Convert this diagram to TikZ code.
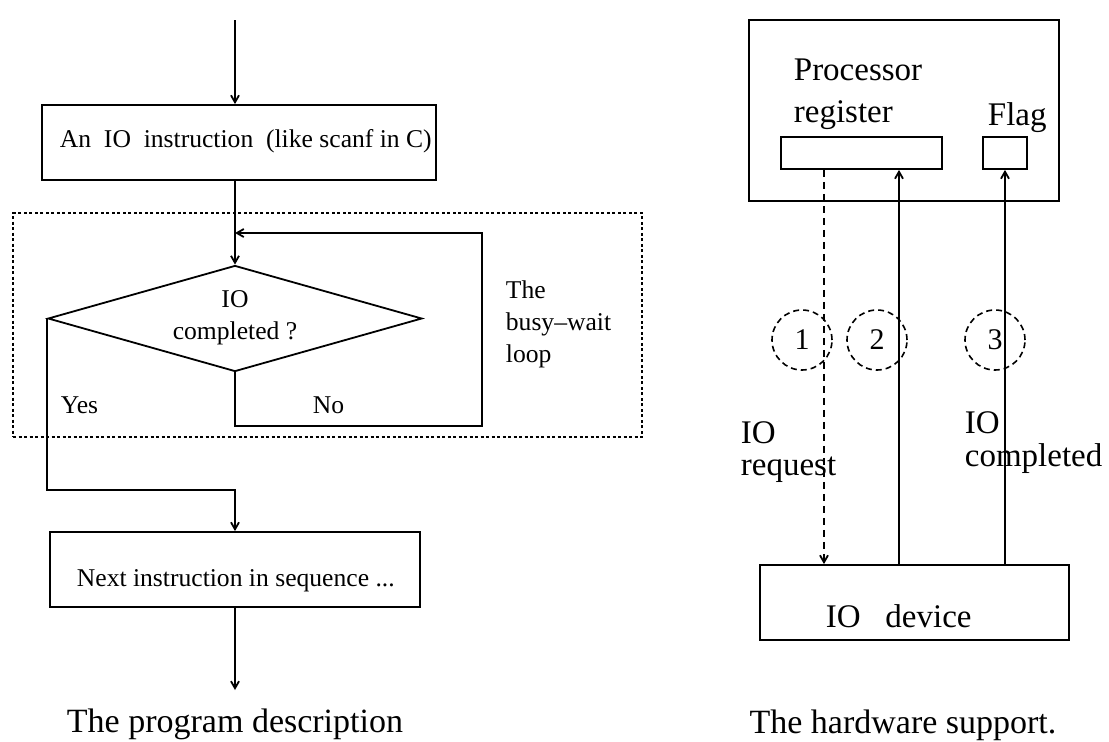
\documentclass[tikz,border=0pt]{standalone}
\usepackage{fontspec}
\setmainfont{Liberation Serif}
\usetikzlibrary{arrows.meta,shapes.geometric}
\begin{document}
\begin{tikzpicture}[x=1pt,y=-1pt,
  line width=1.8pt,
  arr/.style={-{Straight Barb[length=7pt,width=8pt]}},
  box/.style={draw,rectangle,inner sep=0pt},
  smalltxt/.style={font=\fontsize{25.6}{32}\selectfont,inner sep=0pt,anchor=base west},
  bigtxt/.style={font=\fontsize{33}{40}\selectfont,inner sep=0pt,anchor=base west},
  numcirc/.style={draw,circle,dash pattern=on 6pt off 4pt,line width=1.6pt,minimum size=60pt,inner sep=0pt,font=\fontsize{30}{36}\selectfont},
  loopframe/.style={draw,rectangle,dash pattern=on 3pt off 2.5pt,line width=1.1pt,inner sep=0pt}
]
\useasboundingbox (0,0) rectangle (1109,742);
% ---------- left: program description ----------
\coordinate (start) at (235,20);
\node[box,minimum width=394pt,minimum height=75pt] (box1) at (239,142.5) {};
\node[smalltxt] (t1) at (59,147) {An\ \ IO\ \ instruction\ \ (like scanf in C)};
\node[loopframe,minimum width=629pt,minimum height=224pt] (loopbox) at (327.5,325) {};
\node[draw,diamond,minimum width=374pt,minimum height=106pt,inner sep=0pt] (dec) at (235,318.5) {};
\node[font=\fontsize{25.6}{32}\selectfont,align=center,inner sep=0pt] (dect) at (235,318) {IO\\completed ?};
\coordinate (loopBR) at (482,426);
\coordinate (loopTR) at (482,233);
\coordinate (yesturn) at (44,490);
\node[box,minimum width=370pt,minimum height=75pt] (box2) at (235,569.5) {};
\node[smalltxt] (t2) at (76,586) {Next instruction in sequence ...};
\coordinate (end) at (235,690);
\node[smalltxt] (yes) at (60,413) {Yes};
\node[smalltxt] (no) at (312,413) {No};
\node[smalltxt,align=left,anchor=north west] (busy) at (505,280) {The\\busy--wait\\loop};
\node[font=\fontsize{34}{40}\selectfont,inner sep=0pt,anchor=base] (cap1) at (235,732) {The program description};

\draw[arr] (start) -- (start |- box1.north);
\draw[arr] (dec.north |- box1.south) -- (dec.north);
\draw[arr] (dec.south) |- (loopBR) -- (loopTR) -- (dec.north |- loopTR);
\draw[arr] (dec.west) -- (dec.west |- yesturn) -| (box2.north);
\draw[arr] (box2.south) -- (end);

% ---------- right: hardware support ----------
\node[box,minimum width=310pt,minimum height=181pt] (cpu) at (904,110.5) {};
\node[box,minimum width=161pt,minimum height=32pt] (reg) at (861.5,153) {};
\node[box,minimum width=44pt,minimum height=32pt] (flag) at (1005,153) {};
\node[bigtxt,align=left,anchor=north west,font=\fontsize{33}{42}\selectfont] (proc) at (793,58) {Processor\\register};
\node[bigtxt] (flagt) at (987,125) {Flag};
\node[box,minimum width=309pt,minimum height=75pt] (dev) at (914.5,602.5) {};
\node[bigtxt] (devt) at (825,627) {IO\ \ \ device};
\coordinate (xa) at (824,0);
\coordinate (xb) at (899,0);
\draw[arr,dash pattern=on 7pt off 5pt] (xa |- reg.south) -- (xa |- dev.north);
\draw[arr] (xb |- dev.north) -- (xb |- reg.south);
\draw[arr] (flag.south |- dev.north) -- (flag.south);
\node[numcirc] (c1) at (802,340) {1};
\node[numcirc] (c2) at (877,340) {2};
\node[numcirc] (c3) at (995,340) {3};
\node[bigtxt,align=left,anchor=north west,font=\fontsize{33}{32}\selectfont] (req) at (740,421) {IO\\request};
\node[bigtxt,align=left,anchor=north west,font=\fontsize{33}{33}\selectfont] (comp) at (964,411) {IO\\completed};
\node[font=\fontsize{34}{40}\selectfont,inner sep=0pt,anchor=base] (cap2) at (903,733) {The hardware support.};
\end{tikzpicture}
\end{document}
